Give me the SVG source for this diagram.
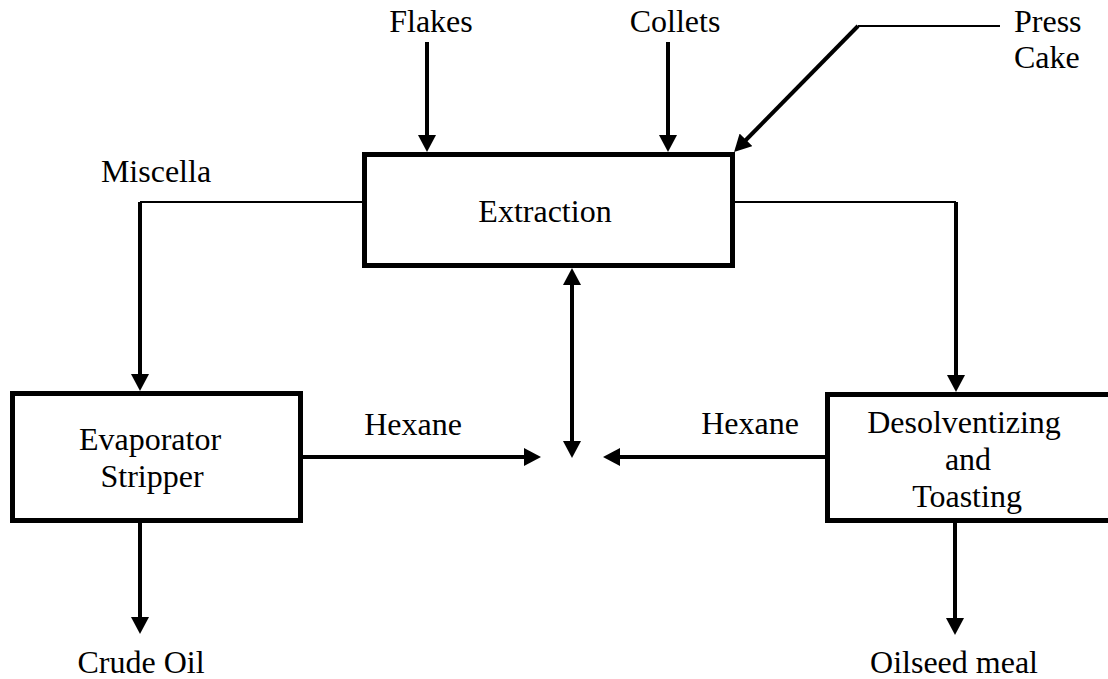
<svg xmlns="http://www.w3.org/2000/svg" width="1108" height="679" viewBox="0 0 1108 679">
<style>
.lbl{font-family:'Liberation Serif','Times New Roman',serif;font-size:32px;fill:#000;text-anchor:middle}
.st{text-anchor:start}
.box{fill:#fff;stroke:#000;stroke-width:5}
.thick{fill:none;stroke:#000;stroke-width:4}
.thin{fill:none;stroke:#000;stroke-width:2}
.arr{marker-end:url(#ah)}
</style>
<defs>
<marker id="ah" markerUnits="userSpaceOnUse" markerWidth="18" markerHeight="18" refX="10" refY="9" orient="auto-start-reverse">
<path d="M0,0 L17,9 L0,18 Z" fill="#000"/>
</marker>
</defs>
<rect width="1108" height="679" fill="#fff"/>
<g id="connectors">
<path class="thick arr" d="M427,42 L427,145"/>
<path class="thick arr" d="M668,42 L668,145"/>
<path class="thin" d="M1000,26 L858,26"/>
<path class="thick arr" d="M858,26 L739,147"/>
<path class="thin" d="M362,202 L140,202"/>
<path class="thick arr" d="M140,202 L140,384"/>
<path class="thin" d="M735,202 L956,202"/>
<path class="thick arr" d="M956,202 L956,385"/>
<path class="thick" d="M572,275 L572,451" marker-start="url(#ah)" marker-end="url(#ah)"/>
<path class="thick arr" d="M303,457 L534,457"/>
<path class="thick arr" d="M825,457 L610,457"/>
<path class="thick arr" d="M140,523 L140,627"/>
<path class="thick arr" d="M955,523 L955,628"/>
</g>
<g id="flakes"><text class="lbl" x="431" y="32">Flakes</text></g>
<g id="collets"><text class="lbl" x="675" y="32">Collets</text></g>
<g id="press-cake"><text class="lbl st" x="1014" y="32">Press</text><text class="lbl st" x="1014" y="68">Cake</text></g>
<g id="miscella"><text class="lbl" x="156" y="182">Miscella</text></g>
<g id="extraction"><rect class="box" x="364.5" y="154.5" width="368" height="111"/><text class="lbl" x="545" y="222">Extraction</text></g>
<g id="evaporator"><rect class="box" x="12.5" y="393.5" width="288" height="127"/><text class="lbl" x="150" y="450">Evaporator</text><text class="lbl" x="152" y="487">Stripper</text></g>
<g id="desolventizing"><rect class="box" x="827.5" y="394.5" width="290" height="126"/><text class="lbl" x="964" y="433">Desolventizing</text><text class="lbl" x="968" y="470">and</text><text class="lbl" x="967" y="507">Toasting</text></g>
<g id="hexane-left"><text class="lbl" x="413" y="435">Hexane</text></g>
<g id="hexane-right"><text class="lbl" x="750" y="434">Hexane</text></g>
<g id="crude-oil"><text class="lbl" x="141" y="673">Crude Oil</text></g>
<g id="oilseed-meal"><text class="lbl" x="954" y="673">Oilseed meal</text></g>
</svg>
